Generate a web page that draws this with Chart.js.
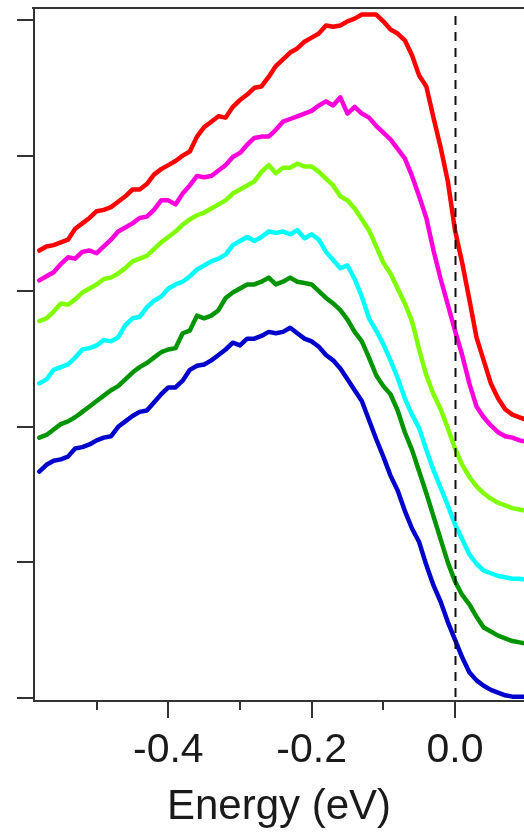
<!DOCTYPE html>
<html>
<head>
<meta charset="utf-8">
<script src="https://cdn.jsdelivr.net/npm/chart.js@4/dist/chart.umd.min.js"></script>
<style>
  html, body { margin: 0; padding: 0; background: #ffffff; }
  canvas { display: block; }
</style>
</head>
<body>
<canvas id="c" width="524" height="833"></canvas>
<script>
// Binding energy grid (eV), shared by all spectra
const energy = [
  -0.58,-0.57,-0.56,-0.55,-0.54,-0.53,-0.52,-0.51,-0.50,-0.49,
  -0.48,-0.47,-0.46,-0.45,-0.44,-0.43,-0.42,-0.41,-0.40,-0.39,
  -0.38,-0.37,-0.36,-0.35,-0.34,-0.33,-0.32,-0.31,-0.30,-0.29,
  -0.28,-0.27,-0.26,-0.25,-0.24,-0.23,-0.22,-0.21,-0.20,-0.19,
  -0.18,-0.17,-0.16,-0.15,-0.14,-0.13,-0.12,-0.11,-0.10,-0.09,
  -0.08,-0.07,-0.06,-0.05,-0.04,-0.03,-0.02,-0.01, 0.00, 0.01,
   0.02, 0.03, 0.04, 0.05, 0.06, 0.07, 0.08, 0.09, 0.10
];

// Offset EDC intensities (arb. units), top to bottom
const redCurve = [
  3.30,3.33,3.34,3.36,3.38,3.46,3.50,3.54,3.59,3.60,
  3.62,3.66,3.70,3.75,3.75,3.79,3.86,3.90,3.93,3.96,
  4.00,4.03,4.14,4.21,4.25,4.29,4.28,4.36,4.41,4.45,
  4.50,4.51,4.58,4.66,4.71,4.76,4.79,4.84,4.87,4.90,
  4.96,4.95,4.96,4.99,5.01,5.04,5.04,5.04,4.99,4.93,
  4.90,4.85,4.74,4.59,4.51,4.28,4.06,3.81,3.45,3.21,
  2.94,2.66,2.49,2.32,2.21,2.13,2.09,2.07,2.05
];
const magentaCurve = [
  3.08,3.11,3.14,3.20,3.25,3.24,3.29,3.30,3.28,3.33,
  3.38,3.44,3.47,3.50,3.54,3.55,3.60,3.67,3.67,3.64,
  3.72,3.78,3.85,3.84,3.85,3.89,3.93,3.99,4.02,4.08,
  4.13,4.14,4.14,4.19,4.25,4.27,4.29,4.31,4.33,4.37,
  4.40,4.37,4.43,4.31,4.36,4.31,4.28,4.22,4.17,4.12,
  4.05,3.98,3.85,3.70,3.54,3.30,3.09,2.90,2.71,2.53,
  2.32,2.15,2.07,2.01,1.96,1.93,1.92,1.90,1.89
];
const limeCurve = [
  2.78,2.80,2.85,2.91,2.90,2.94,2.99,3.02,3.05,3.09,
  3.10,3.13,3.17,3.22,3.24,3.26,3.31,3.36,3.40,3.44,
  3.49,3.53,3.56,3.58,3.61,3.64,3.67,3.72,3.75,3.78,
  3.81,3.88,3.93,3.87,3.91,3.91,3.94,3.92,3.92,3.88,
  3.83,3.78,3.70,3.67,3.61,3.53,3.45,3.33,3.21,3.13,
  3.02,2.91,2.78,2.57,2.38,2.24,2.13,1.99,1.84,1.72,
  1.63,1.56,1.51,1.47,1.44,1.42,1.40,1.39,1.38
];
const cyanCurve = [
  2.32,2.35,2.42,2.44,2.46,2.51,2.57,2.58,2.60,2.64,
  2.63,2.66,2.75,2.80,2.81,2.88,2.93,2.96,3.02,3.05,
  3.07,3.11,3.16,3.19,3.22,3.24,3.27,3.34,3.37,3.40,
  3.37,3.40,3.44,3.43,3.44,3.42,3.45,3.39,3.42,3.38,
  3.29,3.23,3.17,3.19,3.09,2.96,2.80,2.71,2.61,2.49,
  2.36,2.21,2.09,1.99,1.83,1.68,1.55,1.42,1.28,1.17,
  1.06,0.99,0.94,0.92,0.90,0.89,0.88,0.88,0.87
];
const greenCurve = [
  1.92,1.94,1.98,2.02,2.04,2.07,2.11,2.15,2.19,2.23,
  2.27,2.30,2.35,2.40,2.44,2.47,2.51,2.55,2.57,2.58,
  2.69,2.71,2.82,2.80,2.82,2.86,2.95,2.99,3.02,3.05,
  3.05,3.07,3.10,3.05,3.07,3.10,3.07,3.06,3.05,3.00,
  2.95,2.91,2.86,2.79,2.70,2.63,2.51,2.38,2.30,2.24,
  2.12,1.96,1.83,1.67,1.51,1.34,1.17,1.00,0.86,0.76,
  0.69,0.60,0.52,0.49,0.46,0.44,0.42,0.41,0.40
];
const blueCurve = [
  1.67,1.72,1.75,1.76,1.78,1.84,1.85,1.87,1.90,1.92,
  1.93,2.00,2.04,2.08,2.11,2.12,2.18,2.24,2.29,2.29,
  2.34,2.42,2.45,2.46,2.49,2.53,2.57,2.62,2.60,2.65,
  2.65,2.67,2.70,2.69,2.70,2.73,2.69,2.65,2.63,2.59,
  2.53,2.49,2.43,2.35,2.27,2.19,2.05,1.91,1.78,1.64,
  1.53,1.38,1.25,1.15,0.98,0.83,0.71,0.56,0.43,0.30,
  0.19,0.13,0.09,0.06,0.04,0.02,0.01,0.01,0.01
];

// Axis ticks and labels
const xMajorTicks = [-0.4, -0.2, 0.0];
const xTickLabels = ['-0.4', '-0.2', '0.0'];
const xMinorTicks = [-0.5, -0.3, -0.1];
const yTicks = [0, 1, 2, 3, 4, 5];
const xTitle = 'Energy (eV)';
const fermiLevel = 0.0;

const series = [
  { data: redCurve,     color: '#ff0000' },
  { data: magentaCurve, color: '#ff00dd' },
  { data: limeCurve,    color: '#80ff00' },
  { data: cyanCurve,    color: '#00ffff' },
  { data: greenCurve,   color: '#009400' },
  { data: blueCurve,    color: '#0000cc' }
];

const AXIS_COLOR = '#333333';
const FONT = '"Liberation Sans", Arial, Helvetica, sans-serif';

// Draws the outward tick marks, top frame line and the dashed Fermi-level marker
const framePlugin = {
  id: 'frame',
  afterDatasetsDraw(chart) {
    const { ctx, chartArea, scales } = chart;
    const xs = scales.x;
    ctx.save();
    const xf = Math.round(xs.getPixelForValue(fermiLevel)) + 0.5;
    ctx.strokeStyle = '#111111';
    ctx.lineWidth = 2;
    ctx.setLineDash([9, 7]);
    ctx.beginPath();
    ctx.moveTo(xf, chartArea.top + 8);
    ctx.lineTo(xf, chartArea.bottom);
    ctx.stroke();
    ctx.setLineDash([]);
    ctx.restore();
  },
  afterDraw(chart) {
    const { ctx, chartArea, scales } = chart;
    const xs = scales.x, ys = scales.y;
    ctx.save();
    ctx.strokeStyle = AXIS_COLOR;
    ctx.lineWidth = 2;
    ctx.beginPath();
    // top frame line
    ctx.moveTo(chartArea.left - 2, chartArea.top);
    ctx.lineTo(chartArea.right, chartArea.top);
    // y tick marks (outward)
    yTicks.forEach(v => {
      const y = Math.round(ys.getPixelForValue(v));
      ctx.moveTo(chartArea.left - 17, y);
      ctx.lineTo(chartArea.left, y);
    });
    // x major / minor tick marks (outward)
    const base = chartArea.bottom + 1;
    xMajorTicks.forEach(v => {
      const x = Math.round(xs.getPixelForValue(v));
      ctx.moveTo(x, base);
      ctx.lineTo(x, base + 16);
    });
    xMinorTicks.forEach(v => {
      const x = Math.round(xs.getPixelForValue(v));
      ctx.moveTo(x, base);
      ctx.lineTo(x, base + 8);
    });
    ctx.stroke();
    ctx.restore();
  }
};

const PX_LEFT = 34, PX_RIGHT = 524, PX_TOP = 8, PX_BOTTOM = 701;
const X0_PX = 455, X_SCALE = 716.7;     // pixels per eV
const Y0_PX = 698, Y_SCALE = 135.6;     // pixels per unit

new Chart(document.getElementById('c'), {
  type: 'line',
  data: {
    datasets: series.map(s => ({
      data: energy.map((e, i) => ({ x: e, y: s.data[i] })),
      borderColor: s.color,
      backgroundColor: s.color,
      borderWidth: 4.5,
      borderJoinStyle: 'round',
      borderCapStyle: 'round',
      pointRadius: 0,
      tension: 0,
      fill: false
    }))
  },
  options: {
    responsive: false,
    devicePixelRatio: 1,
    animation: false,
    layout: { padding: { top: PX_TOP, left: 0, right: 0, bottom: 0 } },
    plugins: {
      legend: { display: false },
      tooltip: { enabled: false }
    },
    scales: {
      x: {
        type: 'linear',
        min: (PX_LEFT - X0_PX) / X_SCALE,
        max: (PX_RIGHT - X0_PX) / X_SCALE,
        afterBuildTicks(scale) {
          scale.ticks = [...xMinorTicks, ...xMajorTicks]
            .sort((a, b) => a - b)
            .map(v => ({ value: v }));
        },
        afterFit(scale) { scale.height = 833 - PX_BOTTOM; },
        grid: { display: true, drawOnChartArea: false, drawTicks: false, color: 'rgba(0,0,0,0)' },
        border: { display: true, color: AXIS_COLOR, width: 2 },
        ticks: {
          autoSkip: false,
          maxRotation: 0,
          padding: 25,
          color: '#1a1a1a',
          font: { family: FONT, size: 41 },
          callback(value) {
            const k = xMajorTicks.findIndex(t => Math.abs(t - value) < 1e-6);
            return k >= 0 ? xTickLabels[k] : '';
          }
        },
        title: {
          display: true,
          text: xTitle,
          color: '#1a1a1a',
          font: { family: FONT, size: 42 },
          padding: { top: 0, bottom: 0 }
        }
      },
      y: {
        type: 'linear',
        min: (Y0_PX - PX_BOTTOM) / Y_SCALE,
        max: (Y0_PX - PX_TOP) / Y_SCALE,
        afterFit(scale) { scale.width = PX_LEFT; },
        grid: { display: true, drawOnChartArea: false, drawTicks: false, color: 'rgba(0,0,0,0)' },
        border: { display: true, color: AXIS_COLOR, width: 2 },
        ticks: { display: false, stepSize: 1 }
      }
    }
  },
  plugins: [framePlugin]
});
</script>
</body>
</html>
